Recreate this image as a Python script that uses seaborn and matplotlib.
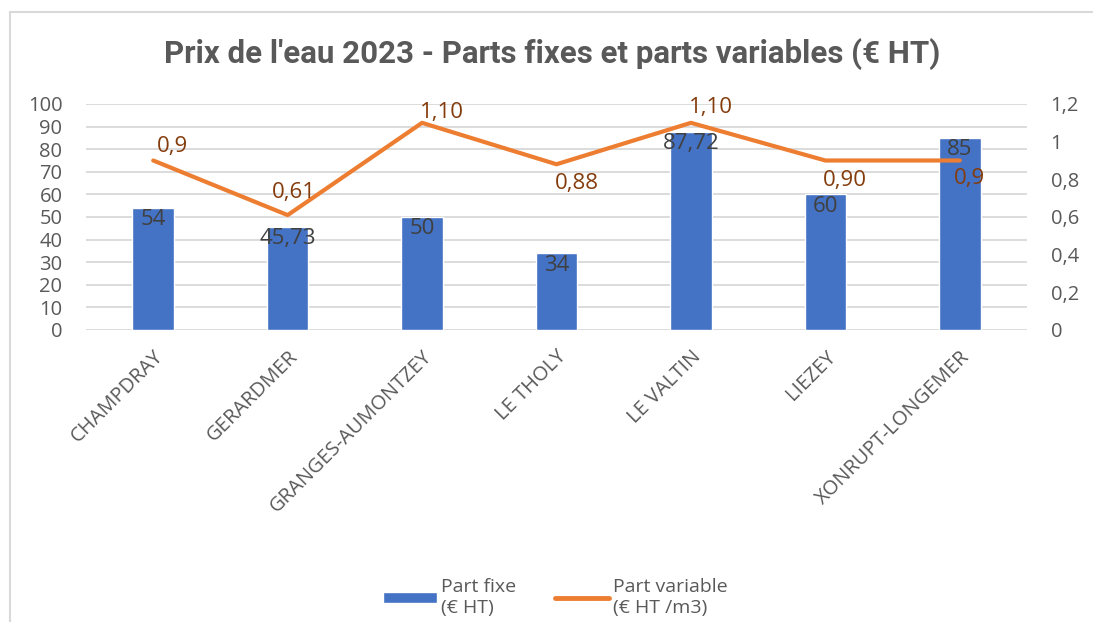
import pandas as pd
import seaborn as sns
import matplotlib.pyplot as plt
from matplotlib.patches import Patch
from matplotlib.lines import Line2D

# Data
communes = ['CHAMPDRAY', 'GERARDMER', 'GRANGES-AUMONTZEY', 'LE THOLY',
            'LE VALTIN', 'LIEZEY', 'XONRUPT-LONGEMER']
part_fixe = [54, 45.73, 50, 34, 87.72, 60, 85]
part_fixe_labels = ['54', '45,73', '50', '34', '87,72', '60', '85']
part_variable = [0.9, 0.61, 1.10, 0.88, 1.10, 0.90, 0.9]
part_variable_labels = ['0,9', '0,61', '1,10', '0,88', '1,10', '0,90', '0,9']

left_ticks = list(range(0, 101, 10))
right_ticks = [0, 0.2, 0.4, 0.6, 0.8, 1, 1.2]
right_tick_labels = ['0', '0,2', '0,4', '0,6', '0,8', '1', '1,2']

df = pd.DataFrame({'Commune': communes, 'Fixe': part_fixe, 'Variable': part_variable})

sns.set_theme(style='white')
plt.rcParams['font.family'] = ['Open Sans', 'DejaVu Sans']

blue = '#4472C4'
orange = '#ED7D31'
grey = '#595959'

fig = plt.figure(figsize=(10.93, 6.22), dpi=100)
ax = fig.add_axes([0.0787, 0.4695, 0.8609, 0.3633])

sns.barplot(data=df, x='Commune', y='Fixe', color=blue, width=0.31,
            saturation=1, ax=ax)
ax.set_ylim(0, 100)
ax.set_yticks(left_ticks)
ax.set_xlim(-0.5, len(communes) - 0.5)
ax.yaxis.grid(True, color='#D9D9D9', lw=1.3)
ax.set_axisbelow(True)
for s in ax.spines.values():
    s.set_visible(False)
ax.tick_params(axis='y', labelsize=14.5, colors=grey, length=0, pad=17)
ax.tick_params(axis='x', length=0, pad=12)
ax.set_xticks(range(len(communes)))
ax.set_xticklabels(communes, rotation=45, ha='right', rotation_mode='anchor',
                   fontsize=14.5, color=grey)
ax.set_xlabel('')
ax.set_ylabel('')

# bar labels, inside end
for i, (v, lab) in enumerate(zip(part_fixe, part_fixe_labels)):
    ax.annotate(lab, (i, v), xytext=(0, -1), textcoords='offset points',
                ha='center', va='top', fontsize=16, color='#404040')

ax2 = ax.twinx()
sns.lineplot(x=range(len(communes)), y=part_variable, color=orange, lw=3,
             solid_capstyle='round', ax=ax2)
ax2.set_ylim(0, 1.2)
ax2.set_yticks(right_ticks)
ax2.set_yticklabels(right_tick_labels)
ax2.tick_params(axis='y', labelsize=14.5, colors=grey, length=0, pad=17)
for s in ax2.spines.values():
    s.set_visible(False)
ax2.set_ylabel('')

# line label offsets in pixels (dx, dy up)
offsets = [(19, 14), (6, 23), (20, 10), (20, -19), (20, 15), (20, -20), (10, -18)]
for i, (v, lab) in enumerate(zip(part_variable, part_variable_labels)):
    dx, dy = offsets[i]
    ax2.annotate(lab, (i, v), xytext=(dx * 0.72, dy * 0.72),
                 textcoords='offset points', ha='center', va='center',
                 fontsize=16, color='#843C0C')

fig.text(0.505, 0.913, "Prix de l'eau 2023 - Parts fixes et parts variables (€ HT)",
         ha='center', va='center', fontsize=22.5, fontweight='bold',
         color=grey, family=['Roboto', 'DejaVu Sans'])

handles = [Patch(facecolor=blue), Line2D([0], [0], color=orange, lw=3.5,
                                         solid_capstyle='round')]
fig.legend(handles, ['Part fixe\n(€ HT)', 'Part variable\n(€ HT /m3)'],
           loc='center', bbox_to_anchor=(0.508, 0.04), ncol=2, frameon=False,
           fontsize=14, labelcolor=grey, handlelength=2.8, handleheight=0.5,
           handletextpad=0.2, columnspacing=2.0)

# chart frame
fig.add_artist(Line2D([0.0092, 1], [0.981, 0.981], color='#D9D9D9', lw=1.5))
fig.add_artist(Line2D([0.0092, 0.0092], [0, 0.981], color='#D9D9D9', lw=1.5))

fig.savefig('out.png', dpi=100)
